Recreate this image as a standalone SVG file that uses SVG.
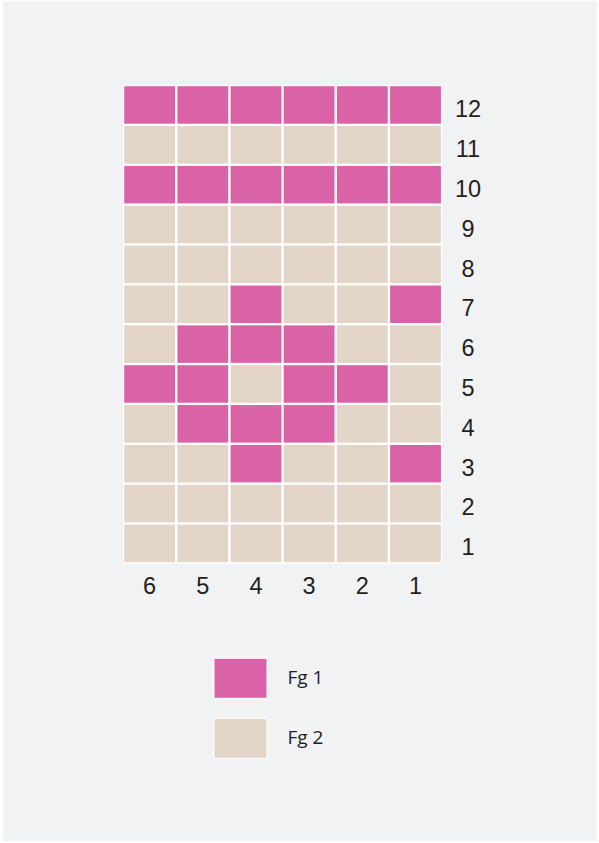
<svg xmlns="http://www.w3.org/2000/svg" width="599" height="843" viewBox="0 0 599 843">
<style>
.p{fill:#da62a6}
.b{fill:#e2d4c6}
.lbl{font-family:"Liberation Sans",Arial,sans-serif;font-size:23.5px;fill:#231f20;text-anchor:middle}
.leg{font-family:"Open Sans","Noto Sans",sans-serif;font-size:19px;fill:#231f20}
</style>
<rect x="0" y="0" width="599" height="843" fill="#ffffff"/>
<rect x="3" y="1" width="594" height="840" fill="#f1f2f4"/>
<g id="grid">
<rect x="123" y="85" width="319.3" height="478.4" fill="#ffffff"/>
<g transform="translate(123,85)">
<!-- row 12 -->
<g id="row12">
<rect class="p" x="1.2" y="1.2" width="50.8" height="37.5"/>
<rect class="p" x="54.4" y="1.2" width="50.8" height="37.5"/>
<rect class="p" x="107.6" y="1.2" width="50.8" height="37.5"/>
<rect class="p" x="160.7" y="1.2" width="50.8" height="37.5"/>
<rect class="p" x="213.9" y="1.2" width="50.8" height="37.5"/>
<rect class="p" x="267.1" y="1.2" width="50.8" height="37.5"/>
</g>
<g id="row11" transform="translate(0,39.86)">
<rect class="b" x="1.2" y="1.2" width="50.8" height="37.5"/>
<rect class="b" x="54.4" y="1.2" width="50.8" height="37.5"/>
<rect class="b" x="107.6" y="1.2" width="50.8" height="37.5"/>
<rect class="b" x="160.7" y="1.2" width="50.8" height="37.5"/>
<rect class="b" x="213.9" y="1.2" width="50.8" height="37.5"/>
<rect class="b" x="267.1" y="1.2" width="50.8" height="37.5"/>
</g>
<g id="row10" transform="translate(0,79.72)">
<rect class="p" x="1.2" y="1.2" width="50.8" height="37.5"/>
<rect class="p" x="54.4" y="1.2" width="50.8" height="37.5"/>
<rect class="p" x="107.6" y="1.2" width="50.8" height="37.5"/>
<rect class="p" x="160.7" y="1.2" width="50.8" height="37.5"/>
<rect class="p" x="213.9" y="1.2" width="50.8" height="37.5"/>
<rect class="p" x="267.1" y="1.2" width="50.8" height="37.5"/>
</g>
<g id="row9" transform="translate(0,119.58)">
<rect class="b" x="1.2" y="1.2" width="50.8" height="37.5"/>
<rect class="b" x="54.4" y="1.2" width="50.8" height="37.5"/>
<rect class="b" x="107.6" y="1.2" width="50.8" height="37.5"/>
<rect class="b" x="160.7" y="1.2" width="50.8" height="37.5"/>
<rect class="b" x="213.9" y="1.2" width="50.8" height="37.5"/>
<rect class="b" x="267.1" y="1.2" width="50.8" height="37.5"/>
</g>
<g id="row8" transform="translate(0,159.44)">
<rect class="b" x="1.2" y="1.2" width="50.8" height="37.5"/>
<rect class="b" x="54.4" y="1.2" width="50.8" height="37.5"/>
<rect class="b" x="107.6" y="1.2" width="50.8" height="37.5"/>
<rect class="b" x="160.7" y="1.2" width="50.8" height="37.5"/>
<rect class="b" x="213.9" y="1.2" width="50.8" height="37.5"/>
<rect class="b" x="267.1" y="1.2" width="50.8" height="37.5"/>
</g>
<g id="row7" transform="translate(0,199.3)">
<rect class="b" x="1.2" y="1.2" width="50.8" height="37.5"/>
<rect class="b" x="54.4" y="1.2" width="50.8" height="37.5"/>
<rect class="p" x="107.6" y="1.2" width="50.8" height="37.5"/>
<rect class="b" x="160.7" y="1.2" width="50.8" height="37.5"/>
<rect class="b" x="213.9" y="1.2" width="50.8" height="37.5"/>
<rect class="p" x="267.1" y="1.2" width="50.8" height="37.5"/>
</g>
<g id="row6" transform="translate(0,239.16)">
<rect class="b" x="1.2" y="1.2" width="50.8" height="37.5"/>
<rect class="p" x="54.4" y="1.2" width="50.8" height="37.5"/>
<rect class="p" x="107.6" y="1.2" width="50.8" height="37.5"/>
<rect class="p" x="160.7" y="1.2" width="50.8" height="37.5"/>
<rect class="b" x="213.9" y="1.2" width="50.8" height="37.5"/>
<rect class="b" x="267.1" y="1.2" width="50.8" height="37.5"/>
</g>
<g id="row5" transform="translate(0,279.02)">
<rect class="p" x="1.2" y="1.2" width="50.8" height="37.5"/>
<rect class="p" x="54.4" y="1.2" width="50.8" height="37.5"/>
<rect class="b" x="107.6" y="1.2" width="50.8" height="37.5"/>
<rect class="p" x="160.7" y="1.2" width="50.8" height="37.5"/>
<rect class="p" x="213.9" y="1.2" width="50.8" height="37.5"/>
<rect class="b" x="267.1" y="1.2" width="50.8" height="37.5"/>
</g>
<g id="row4" transform="translate(0,318.88)">
<rect class="b" x="1.2" y="1.2" width="50.8" height="37.5"/>
<rect class="p" x="54.4" y="1.2" width="50.8" height="37.5"/>
<rect class="p" x="107.6" y="1.2" width="50.8" height="37.5"/>
<rect class="p" x="160.7" y="1.2" width="50.8" height="37.5"/>
<rect class="b" x="213.9" y="1.2" width="50.8" height="37.5"/>
<rect class="b" x="267.1" y="1.2" width="50.8" height="37.5"/>
</g>
<g id="row3" transform="translate(0,358.74)">
<rect class="b" x="1.2" y="1.2" width="50.8" height="37.5"/>
<rect class="b" x="54.4" y="1.2" width="50.8" height="37.5"/>
<rect class="p" x="107.6" y="1.2" width="50.8" height="37.5"/>
<rect class="b" x="160.7" y="1.2" width="50.8" height="37.5"/>
<rect class="b" x="213.9" y="1.2" width="50.8" height="37.5"/>
<rect class="p" x="267.1" y="1.2" width="50.8" height="37.5"/>
</g>
<g id="row2" transform="translate(0,398.6)">
<rect class="b" x="1.2" y="1.2" width="50.8" height="37.5"/>
<rect class="b" x="54.4" y="1.2" width="50.8" height="37.5"/>
<rect class="b" x="107.6" y="1.2" width="50.8" height="37.5"/>
<rect class="b" x="160.7" y="1.2" width="50.8" height="37.5"/>
<rect class="b" x="213.9" y="1.2" width="50.8" height="37.5"/>
<rect class="b" x="267.1" y="1.2" width="50.8" height="37.5"/>
</g>
<g id="row1" transform="translate(0,438.46)">
<rect class="b" x="1.2" y="1.2" width="50.8" height="37.5"/>
<rect class="b" x="54.4" y="1.2" width="50.8" height="37.5"/>
<rect class="b" x="107.6" y="1.2" width="50.8" height="37.5"/>
<rect class="b" x="160.7" y="1.2" width="50.8" height="37.5"/>
<rect class="b" x="213.9" y="1.2" width="50.8" height="37.5"/>
<rect class="b" x="267.1" y="1.2" width="50.8" height="37.5"/>
</g>
</g>
</g>
<g id="row-labels" class="lbl">
<text class="lbl" x="468" y="117.3">12</text>
<text class="lbl" x="468" y="157.1">11</text>
<text class="lbl" x="468" y="197">10</text>
<text class="lbl" x="468" y="236.8">9</text>
<text class="lbl" x="468" y="276.7">8</text>
<text class="lbl" x="468" y="316">7</text>
<text class="lbl" x="468" y="356">6</text>
<text class="lbl" x="468" y="396">5</text>
<text class="lbl" x="468" y="435.7">4</text>
<text class="lbl" x="468" y="475.5">3</text>
<text class="lbl" x="468" y="515.4">2</text>
<text class="lbl" x="468" y="555.2">1</text>
</g>
<g id="col-labels">
<text class="lbl" x="149.6" y="594">6</text>
<text class="lbl" x="202.8" y="594">5</text>
<text class="lbl" x="256" y="594">4</text>
<text class="lbl" x="309.1" y="594">3</text>
<text class="lbl" x="362.3" y="594">2</text>
<text class="lbl" x="415.5" y="594">1</text>
</g>
<g id="legend-fg1">
<rect x="213.5" y="657.8" width="54" height="41" fill="#ffffff"/>
<rect class="p" x="214.5" y="658.8" width="52" height="39"/>
<text class="leg" x="287.5" y="684">Fg 1</text>
</g>
<g id="legend-fg2">
<rect x="213.5" y="717.8" width="54" height="41" fill="#ffffff"/>
<rect class="b" x="214.5" y="718.8" width="52" height="39"/>
<text class="leg" x="287.5" y="744">Fg 2</text>
</g>
</svg>
